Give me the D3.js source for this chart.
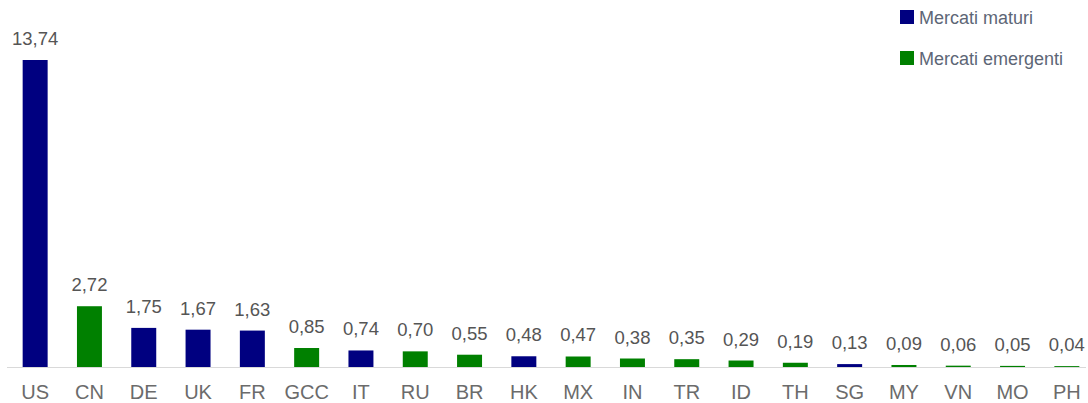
<!DOCTYPE html>
<html><head><meta charset="utf-8">
<script src="https://cdn.jsdelivr.net/npm/d3@7"></script>
<style>body{margin:0;background:#fff;}svg{display:block;font-family:"Liberation Sans",Arial,sans-serif;}</style>
</head><body>
<svg id="c" width="1088" height="403"></svg>
<script>
const categories = ["US","CN","DE","UK","FR","GCC","IT","RU","BR","HK","MX","IN","TR","ID","TH","SG","MY","VN","MO","PH"];
const values = [13.74,2.72,1.75,1.67,1.63,0.85,0.74,0.70,0.55,0.48,0.47,0.38,0.35,0.29,0.19,0.13,0.09,0.06,0.05,0.04];
const groups = ["m","e","m","m","m","e","m","e","e","m","e","e","e","e","e","m","e","e","e","e"];
const seriesNames = {m:"Mercati maturi", e:"Mercati emergenti"};
const colors = {m:"#000080", e:"#008000"};

const svg = d3.select("#c");
const x = d3.scaleBand().domain(categories).range([8,1094]).paddingInner(0.54).paddingOuter(0.27);
const y = d3.scaleLinear().domain([0,13.74]).range([367,60]);
const fmt = v => d3.format(".2f")(v).replace(".", ",");

svg.append("line").attr("x1",7).attr("x2",1086).attr("y1",367.5).attr("y2",367.5)
  .attr("stroke","#d9d9d9").attr("stroke-width",1);

svg.selectAll("rect.bar").data(categories).join("rect").attr("class","bar")
  .attr("x",d=>x(d)).attr("width",x.bandwidth())
  .attr("y",(d,i)=>y(values[i])).attr("height",(d,i)=>y(0)-y(values[i]))
  .attr("fill",(d,i)=>colors[groups[i]]);

svg.selectAll("text.val").data(categories).join("text").attr("class","val")
  .attr("x",d=>x(d)+x.bandwidth()/2).attr("y",(d,i)=>y(values[i])-15)
  .attr("text-anchor","middle").attr("font-size",18.5).attr("fill","#555")
  .text((d,i)=>fmt(values[i]));

const xAxis = svg.append("g").attr("transform","translate(0,367)")
  .call(d3.axisBottom(x).tickSize(0).tickPadding(0));
xAxis.select(".domain").remove();
xAxis.selectAll("text").attr("font-size",20).attr("fill","#6b6b6b")
  .attr("font-family","Liberation Sans, Arial, sans-serif").attr("dy",null).attr("y",32);

const leg = svg.append("g");
["m","e"].forEach((k,i)=>{
  const g = leg.append("g").attr("transform",`translate(900,${10+i*41})`);
  g.append("rect").attr("width",14).attr("height",14).attr("fill",colors[k]);
  g.append("text").attr("x",19).attr("y",13.5).attr("font-size",18).attr("fill","#5d6676").text(seriesNames[k]);
});
</script>
</body></html>
